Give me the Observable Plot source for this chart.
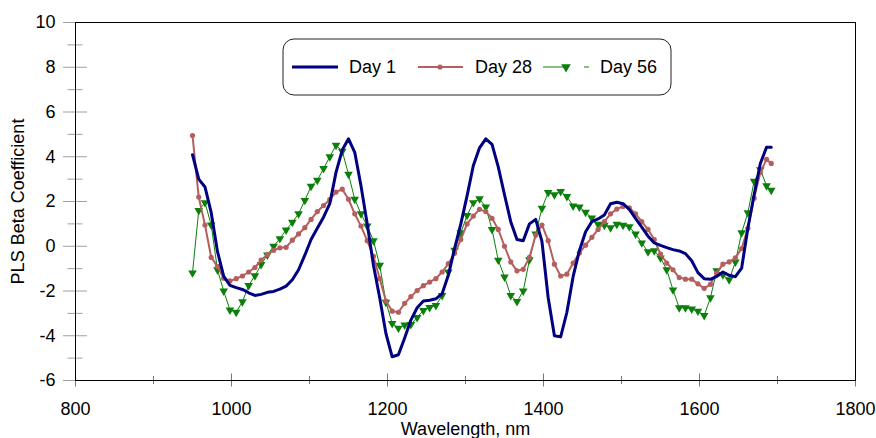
<!DOCTYPE html>
<html>
<head>
<meta charset="utf-8">
<script src="https://cdn.jsdelivr.net/npm/d3@7"></script>
<script src="https://cdn.jsdelivr.net/npm/@observablehq/plot@0.6"></script>
<style>
  html, body { margin: 0; padding: 0; background: #fff; }
  #chart { width: 876px; height: 438px; overflow: hidden; }
</style>
</head>
<body>
<div id="chart"></div>
<script>
const wavelengths = [950,958,966,974,982,990,998,1006,1014,1022,1030,1038,1046,1054,1062,1070,1078,1086,1094,1102,1110,1118,1126,1134,1142,1150,1158,1166,1174,1182,1190,1198,1206,1214,1222,1230,1238,1246,1254,1262,1270,1278,1286,1294,1302,1310,1318,1326,1334,1342,1350,1358,1366,1374,1382,1390,1398,1406,1414,1422,1430,1438,1446,1454,1462,1470,1478,1486,1494,1502,1510,1518,1526,1534,1542,1550,1558,1566,1574,1582,1590,1598,1606,1614,1622,1630,1638,1646,1654,1662,1670,1678,1686,1692];

const day1 = [4.09,3.0,2.65,1.5,-0.23,-1.35,-1.75,-1.85,-1.93,-2.08,-2.2,-2.15,-2.06,-2.02,-1.92,-1.78,-1.5,-1.05,-0.4,0.3,0.8,1.3,1.9,3.3,4.3,4.8,4.2,2.7,1.0,-0.85,-2.3,-3.9,-4.94,-4.85,-4.1,-3.3,-2.75,-2.45,-2.41,-2.35,-2.12,-1.3,-0.1,1.0,2.25,3.6,4.4,4.8,4.55,3.55,2.3,1.1,0.3,0.25,1.0,1.2,0.22,-2.3,-4.0,-4.05,-2.95,-1.35,-0.2,0.65,1.1,1.22,1.4,1.9,1.97,1.9,1.65,1.25,0.85,0.45,0.15,0.04,-0.06,-0.15,-0.21,-0.33,-0.65,-1.18,-1.45,-1.48,-1.35,-1.15,-1.3,-1.36,-0.98,0.8,2.3,3.7,4.43,4.43];

const day28 = [4.95,2.2,0.95,-0.5,-0.9,-1.43,-1.55,-1.45,-1.33,-1.15,-0.95,-0.62,-0.37,-0.18,-0.07,-0.05,0.27,0.55,0.83,1.2,1.55,1.82,2.08,2.42,2.55,2.1,1.45,0.9,0.25,-0.45,-1.45,-2.45,-2.9,-2.95,-2.55,-2.25,-1.98,-1.76,-1.6,-1.45,-1.15,-0.78,-0.32,0.3,1.0,1.35,1.65,1.55,1.25,0.75,0.0,-0.7,-1.1,-1.03,-0.5,0.5,0.95,0.25,-0.8,-1.33,-1.25,-0.75,-0.3,0.05,0.4,0.75,1.1,1.45,1.66,1.78,1.72,1.45,1.1,0.75,0.3,-0.35,-0.75,-1.05,-1.4,-1.47,-1.47,-1.68,-1.88,-1.7,-1.2,-0.8,-0.7,-0.52,-0.1,0.8,2.15,3.3,3.88,3.7];

const day56 = [-1.19,1.6,1.95,0.95,-1.05,-2.0,-2.85,-2.95,-2.48,-1.75,-1.32,-0.82,-0.39,0.0,0.34,0.73,1.07,1.45,2.05,2.68,2.95,3.47,4.0,4.51,4.25,3.22,2.1,1.45,0.9,0.25,-0.85,-2.5,-3.45,-3.66,-3.52,-3.5,-3.18,-2.87,-2.74,-2.65,-2.2,-1.15,-0.18,0.6,1.38,1.95,2.12,1.75,0.75,-0.62,-1.37,-2.2,-2.47,-2.0,-0.6,0.55,1.7,2.4,2.3,2.45,2.22,1.8,1.75,1.52,1.26,0.98,0.94,0.83,0.98,0.94,0.87,0.55,0.15,-0.25,-0.2,-0.52,-1.05,-1.95,-2.75,-2.75,-2.8,-2.9,-3.1,-2.3,-1.1,-1.28,-1.5,-0.7,0.6,1.5,2.9,3.42,2.7,2.5];

const seriesNames = ["Day 1", "Day 28", "Day 56"];
const seriesColors = ["#000080", "#b55e5e", "#0a800a"];

const yMajor = [-6,-4,-2,0,2,4,6,8,10];
const yMinor = [-5,-3,-1,1,3,5,7,9];
const xMajor = [800,1000,1200,1400,1600,1800];
const xMinor = [900,1100,1300,1500,1700];

const rows = vals => wavelengths.map((w, i) => ({w, v: vals[i]}));
const r1 = rows(day1), r28 = rows(day28), r56 = rows(day56);
const noText = () => "";
const plain = d => String(d);

const chart = Plot.plot({
  width: 876,
  height: 438,
  marginLeft: 75,
  marginRight: 21,
  marginTop: 22,
  marginBottom: 58,
  x: {domain: [800, 1800]},
  y: {domain: [-6, 10]},
  style: {fontFamily: "'Liberation Sans', Arial, sans-serif", fontSize: "18px", color: "#000", background: "#fff", overflow: "visible"},
  marks: [
    Plot.axisY(yMinor, {tickSize: 15, dx: 7.5, tickFormat: noText, label: null, stroke: "#a0a0a0"}),
    Plot.axisY(yMajor, {tickSize: 24, dx: 12, tickFormat: noText, label: null, stroke: "#a0a0a0"}),
    Plot.axisY(yMajor, {tickSize: 0, tickPadding: 20, label: null, fontSize: 18, tickFormat: plain}),
    Plot.axisX(xMinor, {tickSize: 8, dy: -4, tickFormat: noText, label: null, stroke: "#777"}),
    Plot.axisX(xMajor, {tickSize: 13, dy: -6.5, tickFormat: noText, label: null, stroke: "#777"}),
    Plot.axisX(xMajor, {tickSize: 0, tickPadding: 22, label: null, fontSize: 18, tickFormat: plain}),
    Plot.frame({stroke: "#000"}),
    Plot.text(["Wavelength, nm"], {frameAnchor: "bottom", dy: 54, fontSize: 18, text: d => d, textAnchor: "middle"}),
    Plot.text(["PLS Beta Coefficient"], {frameAnchor: "left", dx: -57, rotate: -90, fontSize: 18, text: d => d, textAnchor: "middle"}),
    Plot.line(r56, {x: "w", y: "v", stroke: seriesColors[2], strokeWidth: 1}),
    Plot.dot(r56, {x: "w", y: "v", symbol: "triangle", rotate: 180, r: 3.2, fill: seriesColors[2], stroke: "none"}),
    Plot.line(r28, {x: "w", y: "v", stroke: seriesColors[1], strokeWidth: 2}),
    Plot.dot(r28, {x: "w", y: "v", r: 2.6, fill: seriesColors[1], stroke: "none"}),
    Plot.line(r1, {x: "w", y: "v", stroke: seriesColors[0], strokeWidth: 3})
  ]
});

document.getElementById("chart").appendChild(chart);

// Legend box inside the plot (drawn in the SVG)
const svg = d3.select(chart);
const lg = svg.append("g")
  .attr("font-family", "'Liberation Sans', Arial, sans-serif")
  .attr("font-size", 18)
  .attr("text-anchor", "start");
lg.append("rect").attr("x", 283).attr("y", 39).attr("width", 388).attr("height", 56)
  .attr("rx", 11).attr("ry", 11).attr("fill", "#fff").attr("stroke", "#222").attr("stroke-width", 1);
const ly = 67;
// Day 1
lg.append("line").attr("x1", 292).attr("x2", 338).attr("y1", ly).attr("y2", ly)
  .attr("stroke", seriesColors[0]).attr("stroke-width", 3);
lg.append("text").attr("x", 349).attr("y", ly).attr("dy", "0.35em").attr("text-anchor", "start").text(seriesNames[0]);
// Day 28
lg.append("line").attr("x1", 418).attr("x2", 463).attr("y1", ly).attr("y2", ly)
  .attr("stroke", seriesColors[1]).attr("stroke-width", 2);
lg.append("circle").attr("cx", 440).attr("cy", ly).attr("r", 2.6).attr("fill", seriesColors[1]);
lg.append("text").attr("x", 475).attr("y", ly).attr("dy", "0.35em").attr("text-anchor", "start").text(seriesNames[1]);
// Day 56
lg.append("line").attr("x1", 543).attr("x2", 568).attr("y1", ly).attr("y2", ly)
  .attr("stroke", seriesColors[2]).attr("stroke-width", 1);
lg.append("path").attr("d", d3.symbol(d3.symbolTriangle, 40)()).attr("transform", `translate(566,${ly}) rotate(180)`)
  .attr("fill", seriesColors[2]);
lg.append("line").attr("x1", 584).attr("x2", 589).attr("y1", ly).attr("y2", ly)
  .attr("stroke", seriesColors[2]).attr("stroke-width", 1);
lg.append("text").attr("x", 600).attr("y", ly).attr("dy", "0.35em").attr("text-anchor", "start").text(seriesNames[2]);
</script>
</body>
</html>
